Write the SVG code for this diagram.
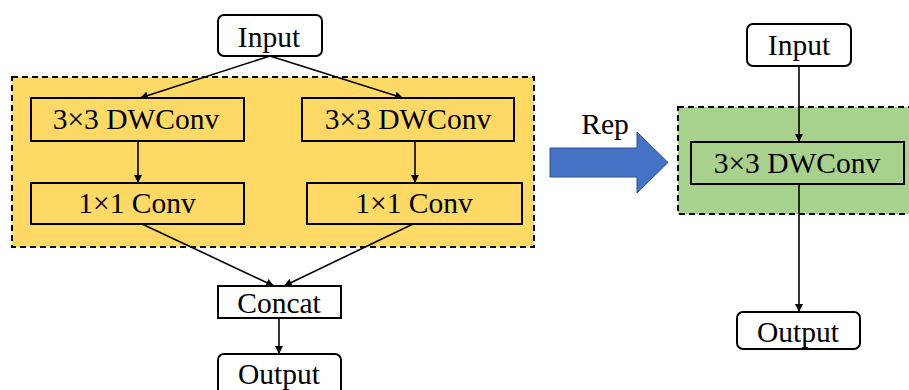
<svg xmlns="http://www.w3.org/2000/svg" width="909" height="390" viewBox="0 0 909 390">
  <defs>
    <marker id="arrow" viewBox="0 0 10 10" refX="10" refY="5" markerWidth="8" markerHeight="8" markerUnits="userSpaceOnUse" orient="auto">
      <path d="M0,0 L10,5 L0,10 z" fill="#000"/>
    </marker>
    <style>
      .lbl { font-family: "Liberation Serif", "Times New Roman", serif; font-size: 29.5px; fill: #000; text-anchor: middle; }
      .term { fill: #fff; stroke: #000; stroke-width: 2; }
      .op { stroke: #000; stroke-width: 2; }
      .yellow { fill: #FFD966; }
      .green { fill: #A9D18E; }
      .white { fill: #fff; }
      .group { stroke: #000; stroke-width: 2; stroke-dasharray: 6 4; }
      .edge { stroke: #000; stroke-width: 1.6; fill: none; marker-end: url(#arrow); }
    </style>
  </defs>

  <rect width="909" height="390" fill="#fff"/>

  <!-- multi-branch block (training form) -->
  <rect id="branch-group" class="group yellow" x="12" y="77" width="522" height="170"/>
  <!-- re-parameterised block (inference form) -->
  <rect id="rep-group" class="group green" x="678" y="107" width="240" height="107"/>

  <g id="connectors">
    <line class="edge" x1="270" y1="56" x2="140" y2="98"/>
    <line class="edge" x1="270" y1="56" x2="403" y2="98"/>
    <line class="edge" x1="138" y1="141" x2="138" y2="183"/>
    <line class="edge" x1="415" y1="141" x2="415" y2="183"/>
    <line class="edge" x1="142" y1="224" x2="274" y2="286"/>
    <line class="edge" x1="413" y1="224" x2="284" y2="286"/>
    <line class="edge" x1="279" y1="318" x2="279" y2="354"/>
    <line class="edge" x1="799" y1="66" x2="799" y2="142"/>
    <line class="edge" x1="799" y1="184" x2="799" y2="312"/>
  </g>

  <g id="input-left">
    <rect class="term" x="218" y="15" width="104" height="41" rx="6"/>
    <text class="lbl" x="269" y="47">Input</text>
  </g>
  <g id="dwconv-left">
    <rect class="op yellow" x="31" y="98" width="213" height="43"/>
    <text class="lbl" x="136" y="129">3×3 DWConv</text>
  </g>
  <g id="dwconv-right">
    <rect class="op yellow" x="302" y="98" width="212" height="43"/>
    <text class="lbl" x="408" y="129">3×3 DWConv</text>
  </g>
  <g id="conv1-left">
    <rect class="op yellow" x="31" y="183" width="213" height="41"/>
    <text class="lbl" x="137" y="213">1×1 Conv</text>
  </g>
  <g id="conv1-right">
    <rect class="op yellow" x="307" y="183" width="215" height="41"/>
    <text class="lbl" x="414" y="213">1×1 Conv</text>
  </g>
  <g id="concat">
    <rect class="op white" x="218" y="286" width="123" height="32"/>
    <text class="lbl" x="279" y="313">Concat</text>
  </g>
  <g id="output-left">
    <rect class="term" x="218" y="354" width="123" height="44" rx="6"/>
    <text class="lbl" x="279" y="384">Output</text>
  </g>

  <g id="rep-arrow">
    <path d="M550,148 L637,148 L637,132 L668,162.5 L637,193 L637,177 L550,177 z" fill="#4472C4" stroke="#2F528F" stroke-width="1"/>
    <text class="lbl" x="605" y="134">Rep</text>
  </g>

  <g id="input-right">
    <rect class="term" x="747" y="24" width="104" height="42" rx="6"/>
    <text class="lbl" x="799" y="55">Input</text>
  </g>
  <g id="dwconv-merged">
    <rect class="op green" x="691" y="142" width="213" height="42"/>
    <text class="lbl" x="797" y="173">3×3 DWConv</text>
  </g>
  <g id="output-right">
    <rect class="term" x="737" y="312" width="123" height="37" rx="6"/>
    <text class="lbl" x="798" y="342">Output</text>
  </g>
</svg>
